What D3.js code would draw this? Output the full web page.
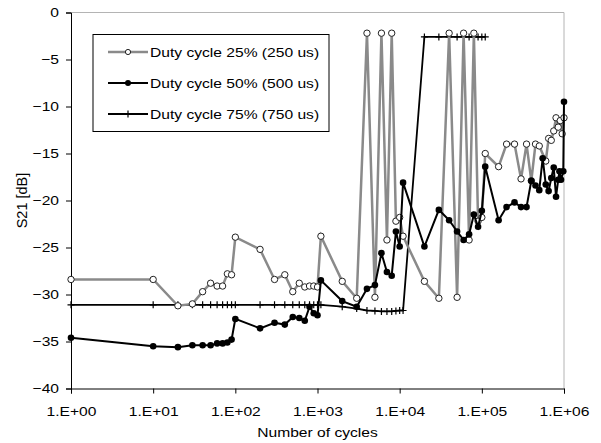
<!DOCTYPE html>
<html>
<head>
<meta charset="utf-8">
<script src="https://cdn.jsdelivr.net/npm/d3@7"></script>
<style>
body { margin: 0; background: #fff; }
text { font-family: "Liberation Sans", Arial, sans-serif; font-size: 13px; fill: #000; }
</style>
</head>
<body>
<script>
// S21 vs number of switching cycles, one pair of arrays per duty cycle
var cycles25 = [1, 10, 20, 30, 40, 50, 60, 70, 80, 90, 100, 200, 300, 400, 500, 600, 700, 800, 900, 1000, 1100,
  2000, 3000, 4000, 5000, 6000, 7000, 8000, 9000, 10000, 11000,
  20000, 30000, 40000, 50000, 60000, 70000, 80000, 90000, 100000, 110000,
  160000, 200000, 250000, 300000, 350000, 400000, 450000, 500000, 600000, 650000, 700000, 750000, 800000, 850000, 900000, 950000, 1000000];
var s21_25 = [-28.4, -28.4, -31.2, -31.0, -29.7, -28.8, -29.1, -29.1, -27.8, -27.9, -23.9, -25.2, -28.4, -27.9, -29.7, -28.8, -29.2, -29.1, -29.1, -29.2, -23.8,
  -28.6, -30.4, -2.2, -30.3, -2.2, -24.2, -2.2, -22.2, -21.8, -23.8,
  -28.6, -30.4, -2.2, -30.3, -2.2, -24.2, -2.2, -22.2, -21.8, -15.0,
  -16.4, -14.0, -14.0, -17.7, -14.0, -17.9, -14.0, -14.2, -15.8, -13.4, -13.6, -12.6, -11.2, -12.2, -11.5, -12.9, -11.2];

var cycles50 = [1, 10, 20, 30, 40, 50, 60, 70, 80, 90, 100, 200, 300, 400, 500, 600, 700, 800, 900, 1000, 1100,
  2000, 3000, 4000, 5000, 6000, 7000, 8000, 9000, 10000, 11000,
  20000, 30000, 40000, 50000, 60000, 70000, 80000, 90000, 100000, 110000,
  160000, 200000, 250000, 300000, 350000, 400000, 450000, 500000, 550000, 600000, 650000, 700000, 750000, 800000, 850000, 880000, 920000, 980000, 1000000];
var s21_50 = [-34.6, -35.5, -35.6, -35.4, -35.4, -35.4, -35.2, -35.2, -35.1, -34.8, -32.6, -33.6, -33.0, -33.2, -32.4, -32.5, -32.8, -31.3, -32.0, -32.2, -28.5,
  -30.7, -31.3, -29.4, -29.0, -25.6, -27.6, -28.0, -23.3, -24.9, -18.1,
  -24.9, -21.0, -22.1, -23.3, -24.2, -23.6, -21.5, -22.8, -21.1, -16.4,
  -22.1, -20.7, -20.2, -20.7, -20.7, -17.9, -18.4, -18.9, -15.5, -18.3, -19.0, -17.6, -16.5, -19.6, -17.8, -16.9, -17.8, -16.9, -9.5];

var cycles75 = [1, 10, 20, 30, 40, 50, 60, 70, 80, 90, 100, 200, 300, 400, 500, 600, 700, 800, 900, 1000, 1100,
  2000, 3000, 4000, 5000, 6000, 7000, 8000, 9000, 10000, 11000,
  20000, 30000, 40000, 50000, 60000, 70000, 80000, 90000, 100000, 110000];
var s21_75 = [-31.1, -31.1, -31.1, -31.1, -31.1, -31.1, -31.1, -31.1, -31.1, -31.1, -31.1, -31.1, -31.1, -31.1, -31.1, -31.1, -31.1, -31.1, -31.1, -31.1, -31.1,
  -31.3, -31.5, -31.7, -31.75, -31.8, -31.8, -31.8, -31.75, -31.7, -31.7,
  -2.6, -2.6, -2.6, -2.6, -2.6, -2.6, -2.6, -2.6, -2.6, -2.6];

var seriesNames = ["Duty cycle 25% (250 us)", "Duty cycle 50% (500 us)", "Duty cycle 75% (750 us)"];
var xTicks = [1, 10, 100, 1000, 10000, 100000, 1000000];
var yTicks = [-40, -35, -30, -25, -20, -15, -10, -5, 0];

var width = 601, height = 443;
var margin = {top: 12.5, right: 37, bottom: 54.5, left: 71};
var w = width - margin.left - margin.right,
    h = height - margin.top - margin.bottom;
var stretchK = 1.2; // picture is wider than tall, text too

function stretch(sel) {
  sel.each(function() {
    var len = this.getComputedTextLength();
    d3.select(this).attr("textLength", len * stretchK).attr("lengthAdjust", "spacingAndGlyphs");
  });
}

var svg = d3.select("body").append("svg")
    .attr("width", width)
    .attr("height", height);

var g = svg.append("g")
    .attr("transform", "translate(" + margin.left + "," + margin.top + ")");

var x = d3.scaleLog().domain([1, 1e6]).range([0, w]);
var y = d3.scaleLinear().domain([-40, 0]).range([h, 0]);

// plot frame, gray on top and right
g.append("path")
    .attr("d", "M0,0H" + w + "V" + h)
    .attr("fill", "none")
    .attr("stroke", "#b4b4b4")
    .attr("stroke-width", 1);

var xAxis = g.append("g")
    .attr("transform", "translate(0," + h + ")")
    .call(d3.axisBottom(x).tickValues(xTicks).tickSizeOuter(0).tickSize(5)
      .tickFormat(function(d) {
        var e = Math.round(Math.log10(d));
        return "1.E+" + (e < 10 ? "0" : "") + e;
      }));
xAxis.select(".domain").attr("stroke", "#000");
xAxis.selectAll("text").attr("y", 27.5).attr("dy", null)
    .style("font-size", "13px").style("font-family", "'Liberation Sans', Arial, sans-serif");

var yAxis = g.append("g")
    .call(d3.axisLeft(y).tickValues(yTicks).tickSizeOuter(0).tickSize(5));
yAxis.selectAll("text").attr("x", -12)
    .style("font-size", "13px").style("font-family", "'Liberation Sans', Arial, sans-serif");

stretch(xAxis.selectAll("text"));
stretch(yAxis.selectAll("text"));

function toPts(cs, vs) {
  return cs.map(function(c, i) { return [c, vs[i]]; });
}
var line = d3.line()
    .x(function(d) { return x(d[0]); })
    .y(function(d) { return y(d[1]); });

var pts25 = toPts(cycles25, s21_25),
    pts50 = toPts(cycles50, s21_50),
    pts75 = toPts(cycles75, s21_75);

var plus = "M-3.5,0H3.5M0,-3.5V3.5";

// 75%
g.append("path").datum(pts75)
    .attr("d", line).attr("fill", "none")
    .attr("stroke", "#000").attr("stroke-width", 1.8);
g.selectAll(".p75").data(pts75).enter().append("path")
    .attr("class", "p75")
    .attr("transform", function(d) { return "translate(" + x(d[0]) + "," + y(d[1]) + ")"; })
    .attr("d", plus)
    .attr("stroke", "#000").attr("stroke-width", 1.2);

// 25%
g.append("path").datum(pts25)
    .attr("d", line).attr("fill", "none")
    .attr("stroke", "#8a8a8a").attr("stroke-width", 2.5);
g.selectAll(".p25").data(pts25).enter().append("circle")
    .attr("class", "p25")
    .attr("cx", function(d) { return x(d[0]); })
    .attr("cy", function(d) { return y(d[1]); })
    .attr("r", 3.2)
    .attr("fill", "#fff").attr("stroke", "#222").attr("stroke-width", 1);

// 50%
g.append("path").datum(pts50)
    .attr("d", line).attr("fill", "none")
    .attr("stroke", "#000").attr("stroke-width", 2);
g.selectAll(".p50").data(pts50).enter().append("circle")
    .attr("class", "p50")
    .attr("cx", function(d) { return x(d[0]); })
    .attr("cy", function(d) { return y(d[1]); })
    .attr("r", 3.3)
    .attr("fill", "#000");

// axis titles
var xt = svg.append("text")
    .attr("x", margin.left + w / 2)
    .attr("y", 437)
    .attr("text-anchor", "middle")
    .text("Number of cycles");
stretch(xt);

svg.append("text")
    .attr("transform", "translate(27," + (margin.top + h / 2) + ") rotate(-90)")
    .attr("text-anchor", "middle")
    .style("font-size", "14.5px")
    .text("S21 [dB]");

// legend
var lg = svg.append("g").attr("transform", "translate(93,34.5)");
lg.append("rect")
    .attr("width", 236).attr("height", 97)
    .attr("fill", "#fff").attr("stroke", "#000").attr("stroke-width", 1);

var rowY = [17.5, 48.5, 79.5];
var lgStroke = ["#8a8a8a", "#000", "#000"];
var lgWidth = [2.5, 2, 1.8];
seriesNames.forEach(function(name, i) {
  var row = lg.append("g").attr("transform", "translate(0," + rowY[i] + ")");
  row.append("line")
      .attr("x1", 15).attr("x2", 55)
      .attr("stroke", lgStroke[i]).attr("stroke-width", lgWidth[i]);
  if (i === 0) {
    row.append("circle").attr("cx", 35).attr("r", 2.6)
        .attr("fill", "#fff").attr("stroke", "#222").attr("stroke-width", 1);
  } else if (i === 1) {
    row.append("circle").attr("cx", 35).attr("r", 3).attr("fill", "#000");
  } else {
    row.append("path").attr("transform", "translate(35,0)")
        .attr("d", "M0,-3.5V3.5").attr("stroke", "#000").attr("stroke-width", 1.2);
  }
  var t = row.append("text")
      .attr("x", 57).attr("dy", "0.35em")
      .text(name);
  stretch(t);
});
</script>
</body>
</html>
